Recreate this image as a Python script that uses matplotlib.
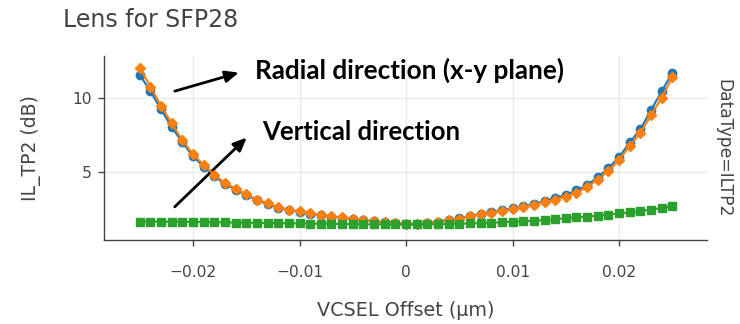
import numpy as np
import matplotlib
matplotlib.use("Agg")
import matplotlib.pyplot as plt

plt.rcParams["font.family"] = "DejaVu Sans"

# VCSEL offset sweep, 1 um steps from -0.025 to 0.025
offset = [-0.025, -0.024, -0.023, -0.022, -0.021, -0.020, -0.019, -0.018, -0.017,
          -0.016, -0.015, -0.014, -0.013, -0.012, -0.011, -0.010, -0.009, -0.008,
          -0.007, -0.006, -0.005, -0.004, -0.003, -0.002, -0.001, 0.000, 0.001,
          0.002, 0.003, 0.004, 0.005, 0.006, 0.007, 0.008, 0.009, 0.010, 0.011,
          0.012, 0.013, 0.014, 0.015, 0.016, 0.017, 0.018, 0.019, 0.020, 0.021,
          0.022, 0.023, 0.024, 0.025]

# IL_TP2 (dB) for x, y and z offsets
il_x = [11.6, 10.5, 9.25, 8.05, 7.0, 6.05, 5.35, 4.7, 4.15, 3.78, 3.4, 3.05, 2.8,
        2.55, 2.37, 2.27, 2.14, 2.03, 1.93, 1.86, 1.78, 1.69, 1.61, 1.54, 1.49,
        1.45, 1.46, 1.51, 1.6, 1.72, 1.83, 1.98, 2.12, 2.25, 2.38, 2.5, 2.64,
        2.8, 3.0, 3.2, 3.42, 3.72, 4.1, 4.62, 5.25, 6.0, 7.0, 7.9, 9.2, 10.5, 11.75]
il_y = [12.1, 10.8, 9.5, 8.3, 7.15, 6.2, 5.45, 4.8, 4.22, 3.85, 3.45, 3.1, 2.85,
        2.58, 2.4, 2.3, 2.17, 2.05, 1.95, 1.88, 1.8, 1.7, 1.62, 1.55, 1.5, 1.45,
        1.45, 1.5, 1.58, 1.7, 1.8, 1.95, 2.08, 2.2, 2.33, 2.45, 2.58, 2.74, 2.92,
        3.1, 3.3, 3.58, 3.95, 4.45, 5.05, 5.8, 6.75, 7.65, 8.85, 10.05, 11.45]
il_z = [1.6, 1.6, 1.59, 1.58, 1.58, 1.57, 1.56, 1.55, 1.54, 1.53, 1.52, 1.51, 1.5,
        1.49, 1.48, 1.47, 1.46, 1.45, 1.44, 1.43, 1.42, 1.41, 1.41, 1.4, 1.4, 1.4,
        1.4, 1.41, 1.42, 1.43, 1.45, 1.47, 1.49, 1.52, 1.55, 1.58, 1.62, 1.66,
        1.7, 1.76, 1.82, 1.88, 1.94, 2.0, 2.07, 2.15, 2.23, 2.32, 2.42, 2.52, 2.64]

xticks = [-0.02, -0.01, 0, 0.01, 0.02]
xticklabels = ["\u22120.02", "\u22120.01", "0", "0.01", "0.02"]
yticks = [5, 10]

grey = "#444444"
fig = plt.figure(figsize=(7.4, 3.24), dpi=100)
ax = fig.add_axes([0.1405, 0.2593, 0.815, 0.567])

ax.plot(offset, il_x, color="#1f77b4", lw=1.5, marker="o", ms=6, zorder=3)
ax.plot(offset, il_y, color="#ff7f0e", lw=1.5, marker="D", ms=5, zorder=4)
ax.plot(offset, il_z, color="#2ca02c", lw=1.5, marker="s", ms=6, zorder=5)

ax.set_xlim(-0.02836, 0.02826)
ax.set_ylim(0.34, 12.88)
ax.set_xticks(xticks)
ax.set_xticklabels(xticklabels)
ax.set_yticks(yticks)
ax.grid(True, color="#ebebeb", lw=1)
ax.set_axisbelow(True)
for s in ["top", "right"]:
    ax.spines[s].set_visible(False)
for s in ["left", "bottom"]:
    ax.spines[s].set_color(grey)
    ax.spines[s].set_linewidth(1)
ax.tick_params(colors=grey, labelsize=11.2, length=4, width=1)
ax.tick_params(axis="x", pad=14)
ax.tick_params(axis="y", pad=5)

ax.set_xlabel("VCSEL Offset (\u03bcm)", color=grey, fontsize=13.8, labelpad=15)
ax.set_ylabel("IL_TP2 (dB)", color=grey, fontsize=13.5, labelpad=22)
fig.text(63 / 740, 1 - 27 / 324, "Lens for SFP28", color=grey, fontsize=17,
         ha="left", va="baseline")
fig.text(723 / 740, 0.542, "DataType=ILTP2", color=grey, fontsize=12.3,
         rotation=-90, ha="center", va="center")

# direction labels with arrows
ax.text(0.251, 0.878, "Radial direction (x-y plane)", transform=ax.transAxes,
        fontsize=18.8, fontweight="bold", family="Lato", va="baseline")
ax.text(0.262, 0.545, "Vertical direction", transform=ax.transAxes,
        fontsize=18.5, fontweight="bold", family="Lato", va="baseline")
ax.annotate("", xy=(0.228, 0.915), xytext=(0.113, 0.806),
            xycoords="axes fraction",
            arrowprops=dict(arrowstyle="-|>,head_length=0.8,head_width=0.35",
                            color="black", lw=2))
ax.annotate("", xy=(0.24, 0.568), xytext=(0.114, 0.17),
            xycoords="axes fraction",
            arrowprops=dict(arrowstyle="-|>,head_length=0.8,head_width=0.35",
                            color="black", lw=2))

fig.savefig("out.png", dpi=100)
